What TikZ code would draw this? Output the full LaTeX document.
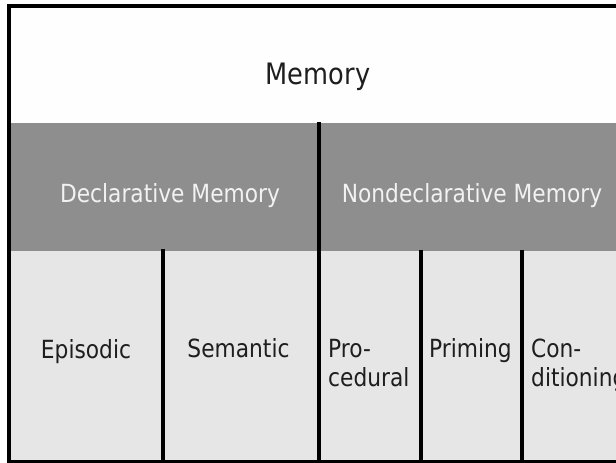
\documentclass[tikz,border=0pt]{standalone}
\usepackage{fontspec}
\setmainfont[FakeStretch=0.87]{DejaVu Sans}
\definecolor{bandtop}{HTML}{FEFEFE}
\definecolor{bandmid}{HTML}{8E8E8E}
\definecolor{bandlow}{HTML}{E6E6E6}
\definecolor{inkdark}{HTML}{1E1E1E}
\definecolor{inklight}{HTML}{F2F2F2}
\tikzset{
  rule/.style={line width=4pt, black},
  toplabel/.style={font=\fontsize{29.5}{34}\selectfont, text=inkdark, inner sep=0pt, anchor=base},
  midlabel/.style={font=\fontsize{25}{30}\selectfont, text=inklight, inner sep=0pt, anchor=base},
  lowlabel/.style={font=\fontsize{25}{30}\selectfont, text=inkdark, inner sep=0pt, anchor=base},
  lowlabelL/.style={lowlabel, anchor=base west},
}
\begin{document}
\begin{tikzpicture}[x=1pt,y=-1pt]
\useasboundingbox (0,0) rectangle (616,463);
% bands
\fill[white] (0,0) rectangle (616,463);
\fill[bandtop] (9,8) rectangle (616,123);
\fill[bandmid] (9,123) rectangle (616,251);
\fill[bandlow] (9,251) rectangle (616,461);
% frame
\draw[rule] (9,6) -- (616,6);
\draw[rule] (9,4) -- (9,463);
\draw[line width=3pt] (7,461.5) -- (616,461.5);
% texts
\node[toplabel] (mem) at (318,84) {Memory};
\node[midlabel] (decl) at (170,202) {Declarative Memory};
\node[midlabel] (nondecl) at (472,202) {Nondeclarative Memory};
\node[lowlabel] (epi) at (86,358) {Episodic};
\node[lowlabel] (sem) at (238.5,357) {Semantic};
\node[lowlabelL] (pro1) at (328,357) {Pro-};
\node[lowlabelL] (pro2) at (328,386) {cedural};
\node[lowlabel] (prim) at (470.5,357) {Priming};
\node[lowlabelL] (con1) at (531,357) {Con-};
\node[lowlabelL] (con2) at (531,386) {ditioning};
% dividers
\coordinate (d0t) at (319,122);
\coordinate (d0b) at (319,461);
\coordinate (d1t) at (162.5,249);
\coordinate (d1b) at (162.5,461);
\coordinate (d2t) at (420.5,250);
\coordinate (d2b) at (420.5,461);
\coordinate (d3t) at (522,250);
\coordinate (d3b) at (522,461);
\draw[rule] (d0t) -- (d0b);
\draw[rule] (d1t) -- (d1b);
\draw[rule] (d2t) -- (d2b);
\draw[rule] (d3t) -- (d3b);
\end{tikzpicture}
\end{document}
